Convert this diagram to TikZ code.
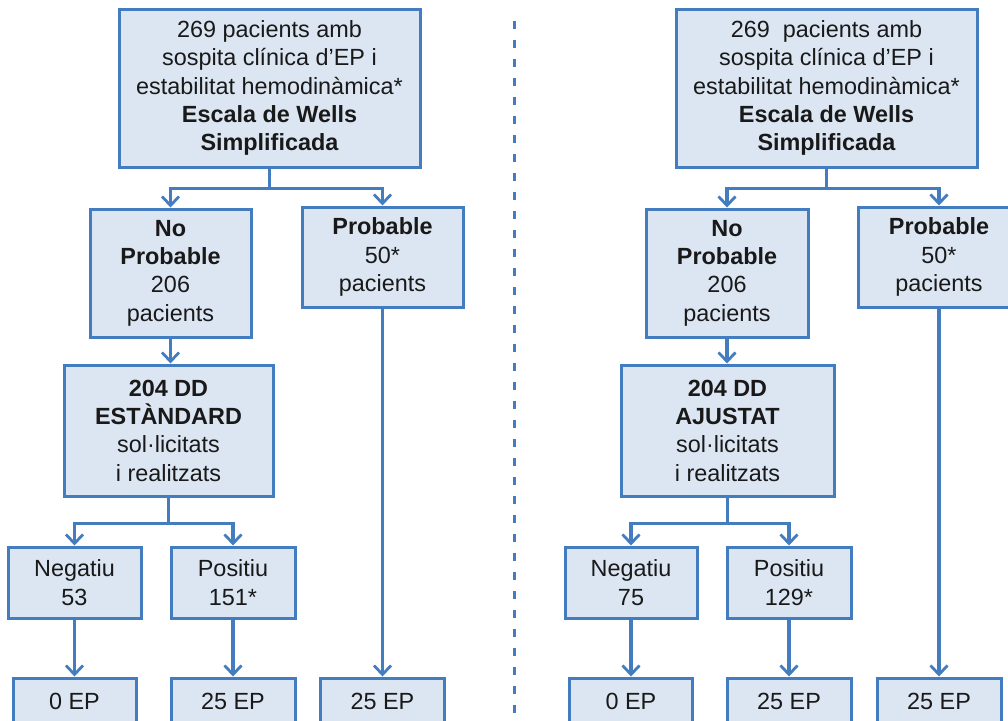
\documentclass[tikz,border=0pt]{standalone}
\usepackage{fontspec}
\setmainfont{Liberation Sans}
\usetikzlibrary{arrows.meta}
\definecolor{boxfill}{RGB}{220,230,242}
\definecolor{boxline}{RGB}{68,124,192}
\tikzset{
  box/.style={draw=boxline, fill=boxfill, line width=3pt, align=center,
    inner sep=0pt, font=\fontsize{23.4}{28.3}\selectfont, text=black!90},
  conn/.style={draw=boxline, line width=3.2pt},
  arr/.style={conn, -{Straight Barb[length=9pt,width=17pt,line width=2.8pt]}},
}
\begin{document}
\begin{tikzpicture}[x=1pt,y=-1pt]
\useasboundingbox (0,0) rectangle (1008,720);

% separator between the two strategies
\draw[boxline, line width=3pt, dash pattern=on 8pt off 11pt] (514,21) -- (514,725);

% ---------- standard D-dimer strategy ----------
\node[box, minimum width=301pt, minimum height=158pt] (Ltop) at (269.5,88)
  {269 pacients amb\\ sospita clínica d’EP i\\ estabilitat hemodinàmica*\\
   \textbf{Escala de Wells}\\ \textbf{Simplificada}};
\node[box, minimum width=161pt, minimum height=128pt] (Lnp) at (170.5,273)
  {\textbf{No}\\ \textbf{Probable}\\ 206\\ pacients};
\node[box, minimum width=161pt, minimum height=100pt] (Lpr) at (382.5,257)
  {\textbf{Probable}\\ 50*\\ pacients};
\node[box, minimum width=209pt, minimum height=131pt] (Ldd) at (168.5,430.5)
  {\textbf{204 DD}\\ \textbf{ESTÀNDARD}\\ sol·licitats\\ i realitzats};
\node[box, minimum width=133pt, minimum height=71pt] (Lneg) at (74.5,582.5)
  {Negatiu\\ 53};
\node[box, minimum width=124pt, minimum height=71pt] (Lpos) at (233,582.5)
  {Positiu\\ 151*};
\node[box, minimum width=123pt, minimum height=46pt] (Lep1) at (74.5,701) {0 EP};
\node[box, minimum width=124pt, minimum height=46pt] (Lep2) at (233,701) {25 EP};
\node[box, minimum width=124pt, minimum height=46pt] (Lep3) at (382.5,701) {25 EP};

\draw[arr] (Ltop.south) -- ++(0,20) -| (Lnp.north);
\draw[arr] (Ltop.south) -- ++(0,20) -| (Lpr.north);
\draw[arr] (Lnp.south) -- (Lnp.south |- Ldd.north);
\draw[arr] (Ldd.south) -- ++(0,26) -| (Lneg.north);
\draw[arr] (Ldd.south) -- ++(0,26) -| (Lpos.north);
\draw[arr] (Lneg.south) -- (Lneg.south |- Lep1.north);
\draw[arr] (Lpos.south) -- (Lpos.south |- Lep2.north);
\draw[arr] (Lpr.south) -- (Lpr.south |- Lep3.north);

% ---------- adjusted D-dimer strategy ----------
\node[box, minimum width=301pt, minimum height=158pt] (Rtop) at (826.5,88)
  {269\ \ pacients amb\\ sospita clínica d’EP i\\ estabilitat hemodinàmica*\\
   \textbf{Escala de Wells}\\ \textbf{Simplificada}};
\node[box, minimum width=162pt, minimum height=128pt] (Rnp) at (727,273)
  {\textbf{No}\\ \textbf{Probable}\\ 206\\ pacients};
\node[box, minimum width=162pt, minimum height=100pt] (Rpr) at (939,257)
  {\textbf{Probable}\\ 50*\\ pacients};
\node[box, minimum width=213pt, minimum height=131pt] (Rdd) at (727.5,430.5)
  {\textbf{204 DD}\\ \textbf{AJUSTAT}\\ sol·licitats\\ i realitzats};
\node[box, minimum width=132pt, minimum height=71pt] (Rneg) at (631,582.5)
  {Negatiu\\ 75};
\node[box, minimum width=124pt, minimum height=71pt] (Rpos) at (789,582.5)
  {Positiu\\ 129*};
\node[box, minimum width=123pt, minimum height=46pt] (Rep1) at (631,701) {0 EP};
\node[box, minimum width=124pt, minimum height=46pt] (Rep2) at (789,701) {25 EP};
\node[box, minimum width=124pt, minimum height=46pt] (Rep3) at (939,701) {25 EP};

\draw[arr] (Rtop.south) -- ++(0,20) -| (Rnp.north);
\draw[arr] (Rtop.south) -- ++(0,20) -| (Rpr.north);
\draw[arr] (Rnp.south) -- (Rnp.south |- Rdd.north);
\draw[arr] (Rdd.south) -- ++(0,26) -| (Rneg.north);
\draw[arr] (Rdd.south) -- ++(0,26) -| (Rpos.north);
\draw[arr] (Rneg.south) -- (Rneg.south |- Rep1.north);
\draw[arr] (Rpos.south) -- (Rpos.south |- Rep2.north);
\draw[arr] (Rpr.south) -- (Rpr.south |- Rep3.north);
\end{tikzpicture}
\end{document}
